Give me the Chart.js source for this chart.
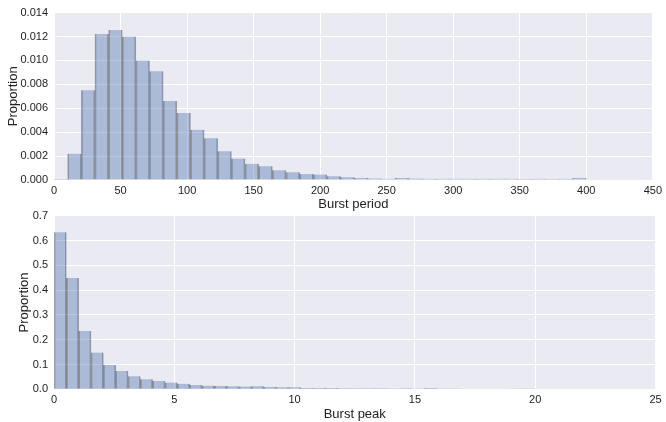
<!DOCTYPE html>
<html>
<head>
<meta charset="utf-8">
<script src="https://cdn.jsdelivr.net/npm/chart.js@4.4.0/dist/chart.umd.min.js"></script>
<style>
  body { margin: 0; background: #fff; }
  #wrap { position: relative; width: 666px; height: 422px; }
  #top-box { position: absolute; left: 0; top: 0; width: 666px; height: 212px; }
  #bottom-box { position: absolute; left: 0; top: 200px; width: 666px; height: 222px; }
</style>
</head>
<body>
<div id="wrap">
  <div id="top-box"><canvas id="periodChart"></canvas></div>
  <div id="bottom-box"><canvas id="peakChart"></canvas></div>
</div>
<script>
// histogram of burst period: 39 bins from 0 to 400
var periodRange = [0, 400];
var periodValues = [
  0.00008, 0.0022, 0.0075, 0.0122, 0.01255, 0.0120, 0.0100, 0.0091, 0.0066, 0.0056,
  0.0042, 0.0035, 0.0024, 0.0018, 0.00135, 0.00116, 0.00081, 0.00065, 0.00051, 0.00046,
  0.00032, 0.00024, 0.00016, 0.00013, 0.0001, 0.00016, 0.00012, 0.0001, 0.0001, 0.00011,
  0.0001, 0.0001, 0.0001, 0.0001, 0.00009, 0.0001, 0.00009, 0.0001, 0.00017
];
var periodXTicks = [0, 50, 100, 150, 200, 250, 300, 350, 400, 450];
var periodYTicks = [0, 0.002, 0.004, 0.006, 0.008, 0.010, 0.012, 0.014];

// histogram of burst peak: 39 bins from 0 to 20
var peakRange = [0, 20];
var peakValues = [
  0.633, 0.449, 0.235, 0.148, 0.098, 0.074, 0.053, 0.041, 0.033, 0.027,
  0.022, 0.017, 0.0145, 0.013, 0.0125, 0.011, 0.012, 0.009, 0.0085, 0.008,
  0.0055, 0.005, 0.005, 0.0045, 0.0045, 0.004, 0.004, 0.0035, 0.004, 0.003,
  0.005, 0.003, 0.003, 0.0025, 0.0025, 0.002, 0.002, 0.0015, 0.0015
];
var peakXTicks = [0, 5, 10, 15, 20, 25];
var peakYTicks = [0, 0.1, 0.2, 0.3, 0.4, 0.5, 0.6, 0.7];

var fontFamily = '"Liberation Sans", Arial, sans-serif';
var textColor = '#222';

// fill the plot area with the seaborn grey
var plotBackground = {
  id: 'plotBackground',
  beforeDraw: function (chart) {
    var a = chart.chartArea;
    var ctx = chart.ctx;
    ctx.save();
    ctx.fillStyle = '#EAEAF2';
    ctx.fillRect(a.left, a.top, a.right - a.left, a.bottom - a.top);
    ctx.restore();
  }
};

function binPoints(range, values) {
  var w = (range[1] - range[0]) / values.length;
  return values.map(function (v, i) {
    return { x: range[0] + w * (i + 0.5), y: v };
  });
}

function makeHist(canvasId, range, values, xTicks, yTicks, xTitle, decimals, opts) {
  var ctx = document.getElementById(canvasId).getContext('2d');
  return new Chart(ctx, {
    type: 'bar',
    data: {
      datasets: [{
        data: binPoints(range, values),
        backgroundColor: 'rgba(76, 114, 176, 0.4)',
        borderColor: 'rgba(0, 0, 0, 0.33)',
        borderWidth: { left: 1, right: 1, top: 0, bottom: 0 },
        borderSkipped: false,
        barPercentage: 1.0,
        categoryPercentage: 1.0
      }]
    },
    options: {
      responsive: true,
      maintainAspectRatio: false,
      animation: false,
      layout: { padding: { top: opts.padTop, right: opts.padRight, left: 0, bottom: 0 } },
      plugins: { legend: { display: false }, tooltip: { enabled: false } },
      scales: {
        x: {
          type: 'linear',
          offset: false,
          min: xTicks[0],
          max: xTicks[xTicks.length - 1],
          afterBuildTicks: function (scale) {
            scale.ticks = xTicks.map(function (v) { return { value: v }; });
          },
          afterFit: function (scale) { scale.height = opts.xHeight; },
          grid: { color: '#ffffff', lineWidth: 1, drawTicks: false, offset: false },
          border: { display: false },
          ticks: {
            padding: 4,
            color: textColor,
            font: { family: fontFamily, size: 11 },
            callback: function (v) { return String(v); }
          },
          title: {
            display: true,
            text: xTitle,
            color: textColor,
            font: { family: fontFamily, size: 13 },
            padding: { top: 0, bottom: 0 }
          }
        },
        y: {
          min: yTicks[0],
          max: yTicks[yTicks.length - 1],
          afterBuildTicks: function (scale) {
            scale.ticks = yTicks.map(function (v) { return { value: v }; });
          },
          afterFit: function (scale) { scale.width = 54; },
          grid: { color: '#ffffff', lineWidth: 1, drawTicks: false },
          border: { display: false },
          ticks: {
            padding: 6,
            color: textColor,
            font: { family: fontFamily, size: 11 },
            callback: function (v) { return Number(v).toFixed(decimals); }
          },
          title: {
            display: true,
            text: 'Proportion',
            color: textColor,
            font: { family: fontFamily, size: 13 },
            padding: { top: opts.yTitlePad, bottom: 0 }
          }
        }
      }
    },
    plugins: [plotBackground]
  });
}

makeHist('periodChart', periodRange, periodValues, periodXTicks, periodYTicks, 'Burst period', 3,
  { padTop: 7, padRight: 9.5, xHeight: 32, yTitlePad: 6 });
makeHist('peakChart', peakRange, peakValues, peakXTicks, peakYTicks, 'Burst peak', 1,
  { padTop: 15.7, padRight: 10.5, xHeight: 32.7, yTitlePad: 17 });
</script>
</body>
</html>
